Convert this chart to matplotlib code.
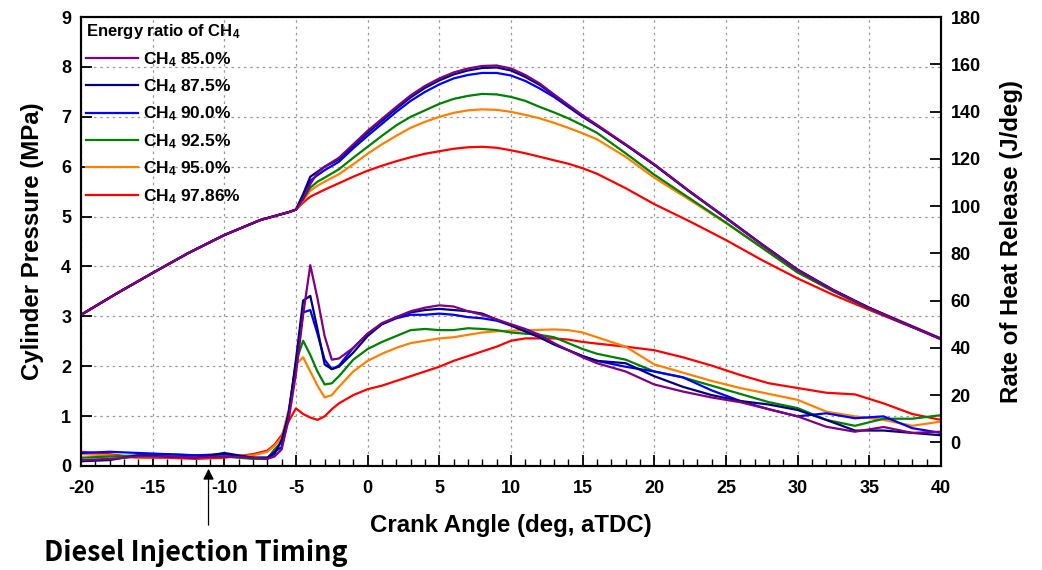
import matplotlib
matplotlib.use("Agg")
import matplotlib.pyplot as plt
from matplotlib.ticker import MultipleLocator

plt.rcParams['font.family'] = ['Liberation Sans', 'DejaVu Sans']
plt.rcParams['font.weight'] = 'bold'
plt.rcParams['axes.unicode_minus'] = False
plt.rcParams['mathtext.fontset'] = 'custom'
plt.rcParams['mathtext.rm'] = 'Liberation Sans:bold'
plt.rcParams['mathtext.default'] = 'rm'

# Datos
labels = ["CH$_4$ 85.0%", "CH$_4$ 87.5%", "CH$_4$ 90.0%",
          "CH$_4$ 92.5%", "CH$_4$ 95.0%", "CH$_4$ 97.86%"]
colors = ["#800080", "#000080", "#0000ff", "#008000", "#ff8000", "#ff0000"]

# presión en cilindro (MPa)
ca_p = [-20, -17.5, -15, -12.5, -10, -7.5, -6, -5.5, -5, -4.5, -4, -3.5, -3, -2, -1,
        0, 1, 2, 3, 4, 5, 6, 7, 8, 9, 10, 11, 12, 13, 14, 15, 16, 18, 20,
        22.5, 25, 27.5, 30, 32.5, 35, 37.5, 40]
comp = [3.03, 3.46, 3.87, 4.27, 4.63, 4.93, 5.05, 5.09, 5.14]
p_850 = comp + [5.35, 5.65, 5.88, 6.00, 6.18, 6.45,
                6.72, 6.96, 7.20, 7.43, 7.62, 7.77, 7.89, 7.97, 8.02, 8.03, 7.97, 7.84, 7.67, 7.45, 7.24, 7.03, 6.84, 6.45, 6.05,
                5.50, 4.97, 4.44, 3.93, 3.52, 3.16, 2.85, 2.54]
p_875 = comp + [5.45, 5.80, 5.90, 6.00, 6.15, 6.42,
                6.68, 6.92, 7.16, 7.39, 7.58, 7.73, 7.85, 7.93, 7.98, 7.99, 7.93, 7.80, 7.64, 7.44, 7.23, 7.02, 6.83, 6.44, 6.04,
                5.49, 4.97, 4.44, 3.93, 3.52, 3.17, 2.85, 2.54]
p_900 = comp + [5.42, 5.72, 5.83, 5.93, 6.10, 6.37,
                6.62, 6.86, 7.10, 7.32, 7.50, 7.65, 7.77, 7.84, 7.88, 7.88, 7.83, 7.72, 7.57, 7.40, 7.20, 7.00, 6.82, 6.44, 6.04,
                5.50, 4.98, 4.45, 3.94, 3.53, 3.17, 2.86, 2.55]
p_925 = comp + [5.35, 5.58, 5.70, 5.78, 5.95, 6.18,
                6.40, 6.62, 6.83, 7.00, 7.13, 7.26, 7.36, 7.42, 7.46, 7.45, 7.40, 7.32, 7.20, 7.09, 6.97, 6.83, 6.68, 6.27, 5.84,
                5.36, 4.88, 4.38, 3.88, 3.50, 3.15, 2.85, 2.55]
p_950 = comp + [5.32, 5.52, 5.62, 5.70, 5.85, 6.05,
                6.26, 6.45, 6.62, 6.78, 6.90, 7.00, 7.08, 7.13, 7.15, 7.14, 7.10, 7.04, 6.97, 6.88, 6.78, 6.67, 6.55, 6.20, 5.78,
                5.33, 4.87, 4.38, 3.88, 3.52, 3.17, 2.87, 2.56]
p_9786 = comp + [5.28, 5.40, 5.47, 5.54, 5.67, 5.80,
                 5.92, 6.02, 6.11, 6.19, 6.26, 6.31, 6.36, 6.39, 6.40, 6.38, 6.33, 6.27, 6.20, 6.13, 6.06, 5.97, 5.86, 5.57, 5.25,
                 4.90, 4.53, 4.13, 3.76, 3.43, 3.13, 2.84, 2.56]

# tasa de liberación de calor (J/deg)
ca_h = [-20, -18, -16, -14, -12, -10, -8, -7,
        -6.5, -6, -5.5, -5, -4.5, -4, -3.5, -3, -2.5, -2, -1,
        0, 1, 2, 3, 4, 5, 6, 7, 8, 9, 10, 11, 12, 13, 14, 15,
        16, 18, 20, 22, 24, 26, 28, 30, 32, 34, 36, 38, 40]
h_850 = [-7.5, -7, -6, -6, -6.5, -6, -6.5, -7,
         -6, -3, 10, 29, 54, 75, 61, 45, 35, 35.5, 40,
         46, 50.5, 53, 55.5, 57, 58, 57.5, 55.5, 54, 52, 50, 48, 45.5, 42, 39, 36,
         33.5, 30, 24.5, 21.5, 19, 17, 14, 11, 6.6, 4.5, 6.5, 4, 4.5]
h_875 = [-8, -7.5, -5.5, -6, -6.5, -4.5, -6.5, -6.5,
         -5, 1, 12, 35, 60, 62, 48, 33, 31, 32, 38,
         45, 50, 53, 55, 56, 56.5, 56, 55.5, 54.5, 52, 49.5, 47, 44.5, 41.5, 39, 36.5,
         34.5, 33.5, 28, 23.5, 20, 17.5, 16, 13.7, 9.5, 5, 5, 4, 3]
h_900 = [-4.5, -4, -4.5, -5, -5.5, -5, -6.5, -6.5,
         -4, -2, 13, 33, 55, 56, 46, 35, 31, 32.5, 40,
         46, 50, 52.5, 54, 54, 54.5, 54, 53, 52.5, 51.5, 49.5, 47, 44.5, 41.5, 39, 36.5,
         34.5, 32, 30, 27.5, 22, 17.5, 14, 11, 12.3, 10.2, 11, 6, 4]
h_925 = [-6.5, -6, -5.5, -5, -5.5, -6, -7, -7,
         -3, 0, 12, 34, 43, 37, 30, 24.5, 25, 28, 35,
         39.5, 42.5, 45, 47.5, 48, 47.5, 47.5, 48.3, 48, 47.5, 46.5, 46, 45.5, 44.5, 42, 39.5,
         37.5, 35, 30, 27.5, 24, 20.5, 17, 14.5, 9.5, 7, 10, 10, 11.5]
h_950 = [-5, -5.5, -6.5, -6, -6.5, -6, -5.5, -4,
         -1.5, 2, 14, 33, 36, 30, 24, 19, 20, 23.5, 30,
         34.5, 37.5, 40, 42, 43, 44, 44.5, 45.5, 46.5, 47, 47.3, 47.5, 47.6, 47.8, 47.5, 46.5,
         44.5, 40.5, 33, 29.5, 26, 23, 20.5, 18, 13, 11, 9.5, 7, 8.8]
h_9786 = [-4, -5, -6.5, -6.5, -7, -6.5, -5, -3.5,
          -1, 3, 9, 14.4, 12, 10.5, 9.5, 11, 14, 16.5, 20,
          22.5, 24, 26, 28, 30, 32, 34.5, 36.5, 38.5, 40.5, 43, 44, 44, 44, 43.5, 42.5,
          41.8, 40.5, 39, 36, 32.5, 28.5, 25, 23, 21, 20.3, 16.5, 12, 9.5]

pressures = [p_850, p_875, p_900, p_925, p_950, p_9786]
hrrs = [h_850, h_875, h_900, h_925, h_950, h_9786]

fig = plt.figure(figsize=(10.42, 5.70), dpi=100)
ax = fig.add_axes([0.0777, 0.1825, 0.8253, 0.7875])
ax2 = ax.twinx()

# dibuja de abajo hacia arriba para que el morado quede encima
for i in reversed(range(6)):
    ax.plot(ca_p, pressures[i], color=colors[i], lw=1.6, label=labels[i])
    ax2.plot(ca_h, hrrs[i], color=colors[i], lw=1.6)

ax.set_xlim(-20, 40)
ax.set_ylim(0, 9)
ax2.set_ylim(-10, 180)

ax.xaxis.set_major_locator(MultipleLocator(5))
ax.xaxis.set_minor_locator(MultipleLocator(1))
ax.yaxis.set_major_locator(MultipleLocator(1))
ax2.set_yticks(range(0, 181, 20))

ax.tick_params(axis='both', which='major', direction='in', length=8, width=1.3,
               labelsize=13, pad=7)
ax.tick_params(axis='x', which='major', pad=10)
ax.tick_params(axis='x', which='minor', direction='in', length=5, width=1.0)
ax2.tick_params(axis='y', which='major', direction='in', length=8, width=1.3,
                labelsize=13, pad=7)

for a in (ax, ax2):
    for s in a.spines.values():
        s.set_linewidth(1.5)

ax.grid(True, which='major', linestyle=(0, (2, 3)), color='0.6', lw=0.9)
ax.set_axisbelow(True)

ax.set_xlabel("Crank Angle (deg, aTDC)", fontsize=17.3, fontweight='bold', labelpad=12)
ax.set_ylabel("Cylinder Pressure (MPa)", fontsize=17.3, fontweight='bold', labelpad=12)
ax2.set_ylabel("Rate of Heat Release (J/deg)", fontsize=17.3, fontweight='bold', labelpad=14)

handles, labs = ax.get_legend_handles_labels()
leg = ax.legend(handles[::-1], labs[::-1], title="Energy ratio of CH$_4$",
                loc='upper left', frameon=False, fontsize=12.5,
                title_fontproperties={'weight': 'bold', 'size': 12},
                handlelength=3.0, handletextpad=0.3, labelspacing=0.5,
                borderaxespad=0.1, borderpad=0.2, alignment='left')
leg.set_zorder(5)

# flecha del tiempo de inyección diésel
ax.annotate("", xy=(-11.1, 0), xycoords='data',
            xytext=(-11.1, -0.138), textcoords=('data', 'axes fraction'),
            arrowprops=dict(arrowstyle='-|>', color='black', lw=0.9, mutation_scale=16),
            annotation_clip=False)
fig.text(0.188, 1 - 553 / 570, "Diesel Injection Timing", ha='center', va='center',
         fontsize=19.4, fontweight='bold', family=['Noto Sans CJK KR', 'Noto Sans'])

fig.savefig("out.png", dpi=100)
